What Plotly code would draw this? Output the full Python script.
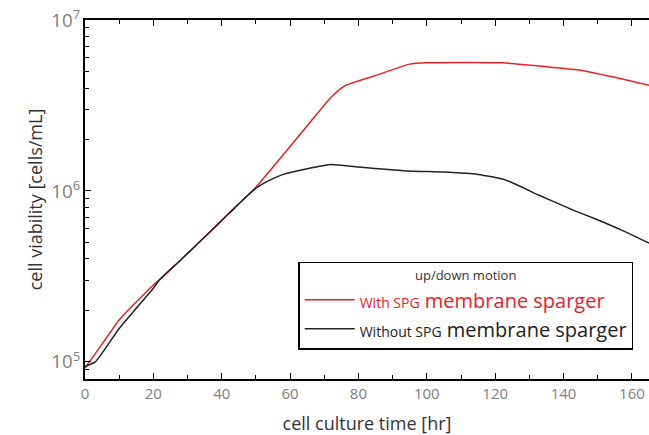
import plotly.graph_objects as go

# Culture time [hr] and viable cell density [cells/mL]
time_with = [0, 5, 10, 15, 20, 22, 28, 35, 42, 50, 55, 60, 66, 72, 76, 85, 95,
             100, 110, 122, 135, 145, 155, 165]
cells_with = [9.2e4, 1.27e5, 1.76e5, 2.24e5, 2.82e5, 3.05e5, 3.95e5, 5.38e5,
              7.35e5, 1.05e6, 1.38e6, 1.82e6, 2.54e6, 3.53e6, 4.12e6, 4.73e6,
              5.52e6, 5.62e6, 5.64e6, 5.62e6, 5.33e6, 5.09e6, 4.62e6, 4.15e6]

time_without = [0, 3, 10, 15, 20, 22, 28, 35, 42, 48, 51, 55, 58, 65, 72, 80,
                94, 105, 115, 123, 133, 143, 149, 157, 165]
cells_without = [9.4e4, 1.0e5, 1.57e5, 2.06e5, 2.7e5, 3.05e5, 3.95e5, 5.38e5,
                 7.35e5, 9.6e5, 1.07e6, 1.18e6, 1.25e6, 1.35e6, 1.43e6, 1.38e6,
                 1.31e6, 1.29e6, 1.25e6, 1.16e6, 9.4e5, 7.7e5, 6.9e5, 5.9e5,
                 4.95e5]

RED = "#e8202a"
DARK = "#222222"
FONT = "Open Sans"

fig = go.Figure()
fig.add_trace(go.Scatter(
    x=time_with, y=cells_with, mode="lines",
    line=dict(color=RED, width=1.5, shape="spline", smoothing=0.5),
    name=f"<span style='font-size:14px;color:{RED}'>With SPG</span>"
         f"<span style='color:{RED}'> membrane sparger</span>",
))
fig.add_trace(go.Scatter(
    x=time_without, y=cells_without, mode="lines",
    line=dict(color=DARK, width=1.5, shape="spline", smoothing=0.5),
    name="<span style='font-size:14px'>Without SPG</span> membrane sparger",
))

axis_common = dict(
    showline=True, linecolor="black", linewidth=1.5,
    ticks="inside", tickcolor="black", tickwidth=1.2, ticklen=6,
    showgrid=False, zeroline=False,
    tickfont=dict(family=FONT, size=15, color="#808080"),
)

fig.update_xaxes(
    range=[0, 165], dtick=20, tick0=0, mirror="ticks",
    minor=dict(dtick=10, ticks="inside", ticklen=4, tickcolor="black", tickwidth=1.2),
    title=dict(text="cell culture time [hr]", standoff=17,
               font=dict(family=FONT, size=18, color="#333")),
    **axis_common,
)
fig.update_yaxes(
    type="log", range=[4.9, 7], dtick=1, exponentformat="power",
    minor=dict(dtick="D1", ticks="inside", ticklen=4, tickcolor="black", tickwidth=1.2),
    title=dict(text="cell viability [cells/mL]", standoff=4,
               font=dict(family=FONT, size=18, color="#333")),
    **axis_common,
)

fig.update_layout(
    width=649, height=435, autosize=False,
    margin=dict(l=85, r=0, t=20, b=56),
    plot_bgcolor="white", paper_bgcolor="white",
    font=dict(family=FONT, color=DARK),
    legend=dict(
        x=0.378, y=0.326, xanchor="left", yanchor="top",
        bordercolor="black", borderwidth=1.5, bgcolor="white",
        font=dict(family=FONT, size=20, color=DARK),
        title=dict(text="up/down motion", side="top center",
                   font=dict(family=FONT, size=13, color="#333")),
        itemwidth=50,
    ),
)

fig.write_html("out.html")
